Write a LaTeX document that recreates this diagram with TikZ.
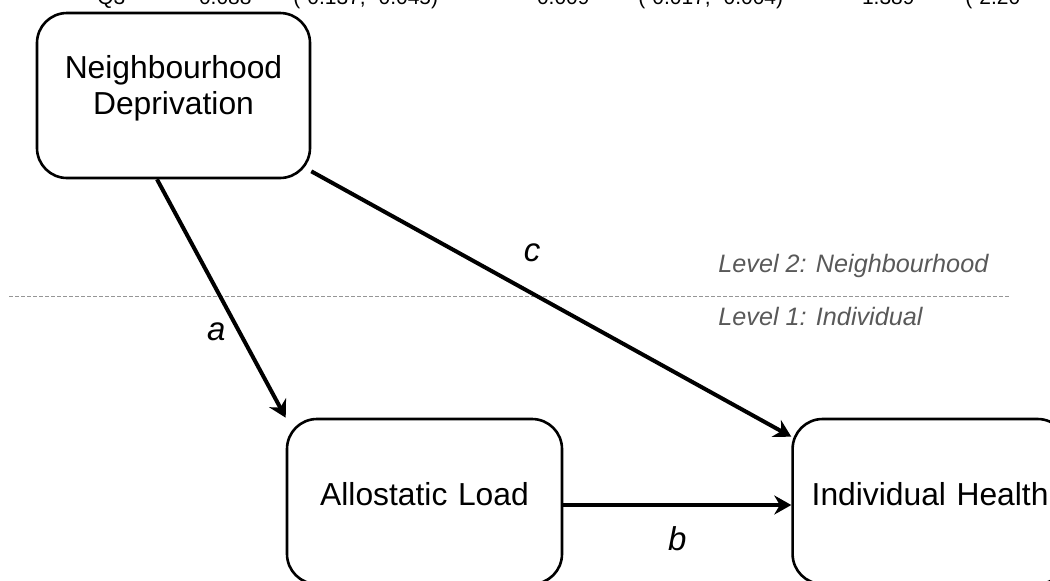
\documentclass[tikz,border=0pt]{standalone}
\usepackage{fontspec}
\setmainfont{Liberation Sans}
\usepackage{xcolor}
\usetikzlibrary{arrows.meta,positioning}
\definecolor{levelgray}{RGB}{89,89,89}
\definecolor{rulegray}{RGB}{150,150,150}

\begin{document}
\begin{tikzpicture}[
x=0.5pt,y=-0.5pt,
node distance=114pt,
box/.style={draw,line width=1.3pt,rounded corners=15pt,align=center,text width=137.5pt,inner sep=0pt,text height=43pt,text depth=39.5pt,font=\fontsize{15.9}{18}\selectfont},
arrow/.style={-{Stealth[length=8.5pt,width=9.5pt]},line width=2pt},
edgelabel/.style={inner sep=0pt,font=\fontsize{16.5}{18}\selectfont\itshape},
level/.style={anchor=base west,inner sep=0pt,text=levelgray,font=\fontsize{12.6}{14}\selectfont\itshape},
cell/.style={inner sep=0pt,font=\fontsize{10.5}{12}\selectfont},
]
\useasboundingbox (0,0) rectangle (1050,580);
\clip (0,0) rectangle (1050,580);

% leftover table row above the figure
\node[cell,anchor=base west] (qrow) at (97,4) {Q3};
\node[cell,anchor=base east] (qest) at (252,4) {-0.088};
\node[cell,anchor=base west] (qci) at (293,4) {(-0.137, -0.045)};
\node[cell,anchor=base east] (qind) at (590,4) {-0.009};
\node[cell,anchor=base west] (qindci) at (638,4) {(-0.017, -0.004)};
\node[cell,anchor=base east] (qtot) at (915,4) {-1.389};
\node[cell,anchor=base west] (qtotci) at (965,4) {(-2.20};

% levels
\draw[rulegray,line width=0.5pt,dash pattern=on 2pt off 1pt] (9,296) -- (1010,296);
\node[level] (lvtwo) at (718,272) {Level 2: Neighbourhood};
\node[level] (lvone) at (718,325) {Level 1: Individual};

\node[box,text width=136.5pt,text height=32.5pt,text depth=50pt] (nd) at (173.5,95.5) {Neighbourhood\\Deprivation};
\node[box] (al) at (424.5,501.5) {Allostatic Load};
\node[box,right=of al] (ih) {Individual Health};

\draw[arrow] ([xshift=-8.25pt]nd.south) -- (al.north west) node[edgelabel,pos=0.64,left=6pt] (la) {a};
\draw[arrow] ([yshift=4pt]nd.south east) -- ([yshift=-9.5pt]ih.north west) node[edgelabel,pos=0.46,above=15pt] (lc) {c};
\draw[arrow] ([yshift=-1.75pt]al.east) -- ([yshift=-1.75pt]ih.west) node[edgelabel,pos=0.5,below=10pt] (lb) {b};
\end{tikzpicture}
\end{document}
